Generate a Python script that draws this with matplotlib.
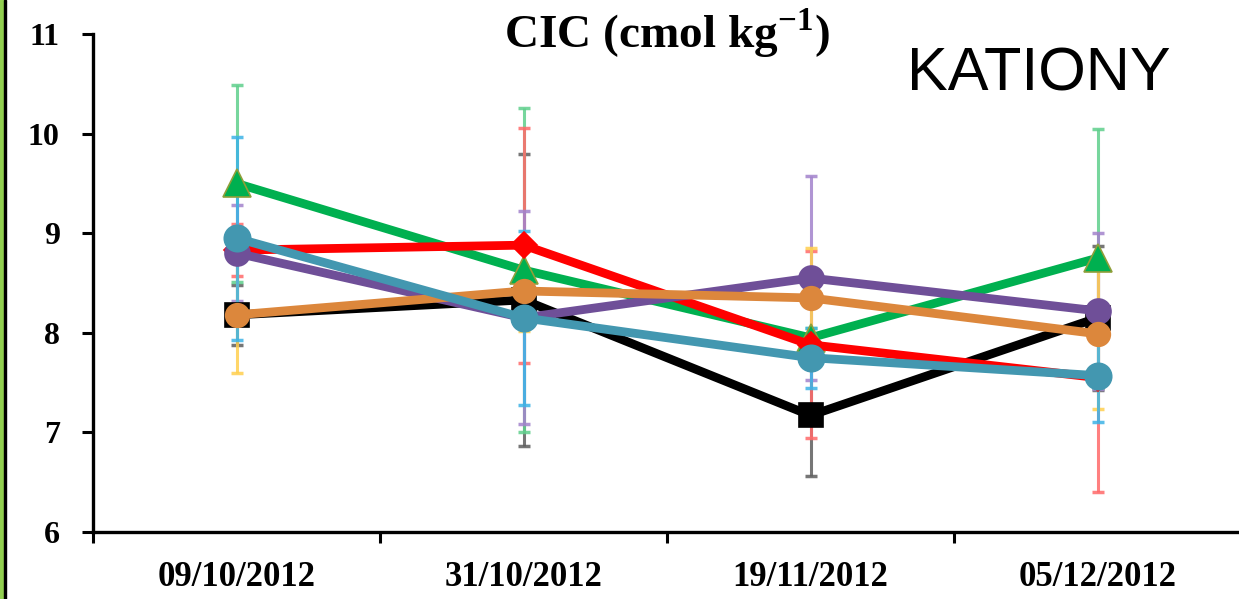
import matplotlib
matplotlib.use("Agg")
import matplotlib.pyplot as plt
import matplotlib.ticker as ticker
from matplotlib.patches import Rectangle
import numpy as np

# Data
dates = ["09/10/2012", "31/10/2012", "19/11/2012", "05/12/2012"]

black_vals = [8.18, 8.33, 7.17, 8.15]
black_err = [0.30, 1.47, 0.61, 0.72]
red_vals = [8.83, 8.88, 7.88, 7.55]
red_err = [0.26, 1.18, 0.94, 1.15]
green_vals = [9.50, 8.63, 7.95, 8.75]
green_err = [0.99, 1.63, 0.10, 1.30]
purple_vals = [8.80, 8.15, 8.55, 8.22]
purple_err = [0.48, 1.07, 1.02, 0.78]
orange_vals = [8.18, 8.42, 8.35, 7.99]
orange_err = [0.58, 0.40, 0.50, 0.76]
teal_vals = [8.95, 8.15, 7.75, 7.57]
teal_err = [1.02, 0.87, 0.30, 0.47]

serif = "Liberation Serif"
plt.rcParams["mathtext.fontset"] = "custom"
plt.rcParams["mathtext.rm"] = "Liberation Serif:bold"
plt.rcParams["mathtext.bf"] = "Liberation Serif:bold"

fig = plt.figure(figsize=(12.39, 5.99), dpi=100)
ax = fig.add_axes([93 / 1239, 67 / 599, 1148 / 1239, 498 / 599])
x = np.arange(len(dates))

# (values, errors, line colour, error colour, marker, size)
series = [
    (black_vals, black_err, "#000000", "#5e5e5e", "s", 17),
    (green_vals, green_err, "#00b050", "#5fcf8c", "^", 20),
    (red_vals, red_err, "#ff0000", "#ff6a6a", "D", 13),
    (purple_vals, purple_err, "#6f4f98", "#a383cc", "o", 18),
    (orange_vals, orange_err, "#dc873c", "#ffcf4f", "o", 17),
    (teal_vals, teal_err, "#4397b0", "#3db3e6", "o", 19),
]

for vals, err, col, ecol, mk, ms in series:
    ax.errorbar(x, vals, yerr=err, fmt="none", ecolor=ecol, elinewidth=2.2,
                capsize=4.5, capthick=2.5, alpha=0.85, zorder=1)

for i, (vals, err, col, ecol, mk, ms) in enumerate(series):
    mec = "#8f9f3a" if mk == "^" else col
    ax.plot(x, vals, color=col, linewidth=6.3, marker=mk, markersize=ms,
            markerfacecolor=col, markeredgecolor=mec, markeredgewidth=1.2,
            zorder=3 + i)

ax.set_xlim(-0.5, 3.5)
ax.set_ylim(6, 11)
ax.set_xticks(x)
ax.set_xticklabels(dates, fontfamily=serif, fontweight="bold", fontsize=25)
ax.xaxis.set_minor_locator(ticker.FixedLocator([-0.5, 0.5, 1.5, 2.5, 3.5]))
ax.tick_params(axis="x", which="major", length=0, pad=21)
ax.tick_params(axis="x", which="minor", length=8, width=2.2, direction="out")
ax.set_yticks(range(6, 12))
ax.set_yticklabels([str(v) for v in range(6, 12)], fontfamily=serif,
                   fontweight="bold", fontsize=23)
ax.tick_params(axis="y", length=8, width=2.2, direction="out", pad=16)

for s in ["top", "right"]:
    ax.spines[s].set_visible(False)
for s in ["left", "bottom"]:
    ax.spines[s].set_linewidth(2.4)

fig.text(667 / 1239, 1 - 48 / 599, r"CIC (cmol kg$^{\mathbf{-1}}$)",
         fontfamily=serif, fontweight="bold", fontsize=34,
         ha="center", va="baseline")
fig.text(1039 / 1239, 1 - 90 / 599, "KATIONY", fontfamily="Liberation Sans",
         fontsize=44, ha="center", va="baseline")

# green/black border at the left edge
fig.patches.append(Rectangle((0, 0), 4 / 1239, 1, color="#92d050",
                             transform=fig.transFigure, zorder=10))
fig.patches.append(Rectangle((4 / 1239, 0), 2.5 / 1239, 1, color="black",
                             transform=fig.transFigure, zorder=10))

fig.savefig("out.png", dpi=100)
